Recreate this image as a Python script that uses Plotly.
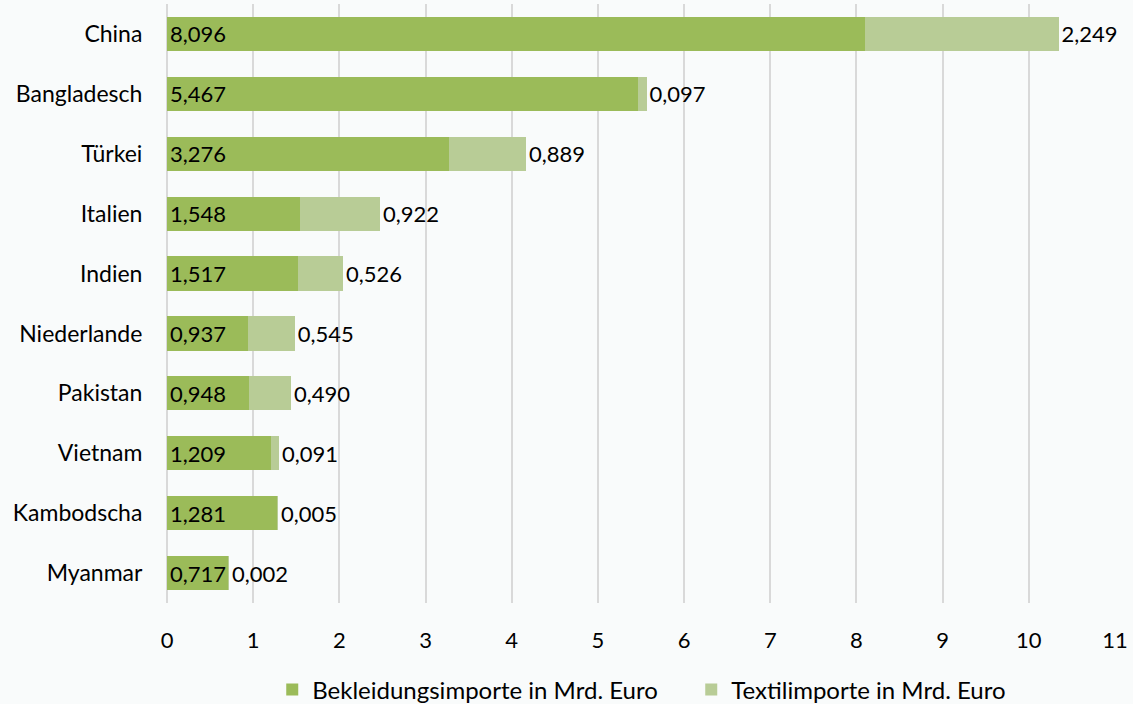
import plotly.graph_objects as go

countries = ["China", "Bangladesch", "Türkei", "Italien", "Indien", "Niederlande",
             "Pakistan", "Vietnam", "Kambodscha", "Myanmar"]
clothing = [8.096, 5.467, 3.276, 1.548, 1.517, 0.937, 0.948, 1.209, 1.281, 0.717]
textile = [2.249, 0.097, 0.889, 0.922, 0.526, 0.545, 0.490, 0.091, 0.005, 0.002]
x_ticks = list(range(0, 12))

FONT = "Lato"
NUM = 22
TXT = 23
fig = go.Figure()
fig.add_trace(go.Bar(
    y=countries, x=clothing, orientation="h",
    name="Bekleidungsimporte in Mrd. Euro",
    marker=dict(color="#9BBB59", line=dict(width=0)),
    texttemplate="%{x:.3f}", textposition="inside", insidetextanchor="start",
    constraintext="none", textangle=0, cliponaxis=False,
    insidetextfont=dict(family=FONT, size=NUM, color="black"),
))
fig.add_trace(go.Bar(
    y=countries, x=textile, orientation="h",
    name="Textilimporte in Mrd. Euro",
    marker=dict(color="#B8CC96", line=dict(width=0)),
    texttemplate="%{x:.3f}", textposition="outside",
    constraintext="none", textangle=0, cliponaxis=False,
    outsidetextfont=dict(family=FONT, size=NUM, color="black"),
))

fig.update_layout(
    barmode="stack",
    bargap=0.43,
    separators=",.",
    width=1133, height=704,
    margin=dict(l=167, r=18, t=4, b=101, autoexpand=False),
    paper_bgcolor="#f9fbfb",
    plot_bgcolor="rgba(0,0,0,0)",
    font=dict(family=FONT, size=TXT, color="black"),
    showlegend=True,
    legend=dict(orientation="h", x=0.553, xanchor="center",
                yref="container", y=(704 - 690) / 704, yanchor="middle",
                font=dict(family=FONT, size=24, color="black"),
                traceorder="normal", itemwidth=30, entrywidth=374,
                bgcolor="rgba(0,0,0,0)"),
    xaxis=dict(range=[0, 11], tickvals=x_ticks, ticktext=[str(v) for v in x_ticks],
               showgrid=True, gridcolor="#d9d9d9", gridwidth=1.5,
               zeroline=True, zerolinecolor="#d9d9d9", zerolinewidth=1.5,
               showline=False, ticks="outside", ticklen=18, tickcolor="rgba(0,0,0,0)",
               tickfont=dict(family=FONT, size=NUM, color="black"), fixedrange=True,
               automargin=False),
    yaxis=dict(autorange="reversed", showgrid=False, showline=False, zeroline=False,
               ticks="outside", ticklen=19, tickcolor="rgba(0,0,0,0)",
               tickfont=dict(family=FONT, size=TXT, color="black"), automargin=False),
)

fig.write_html("out.html", config={"displayModeBar": False},
               post_script="document.body.style.margin='0';")
